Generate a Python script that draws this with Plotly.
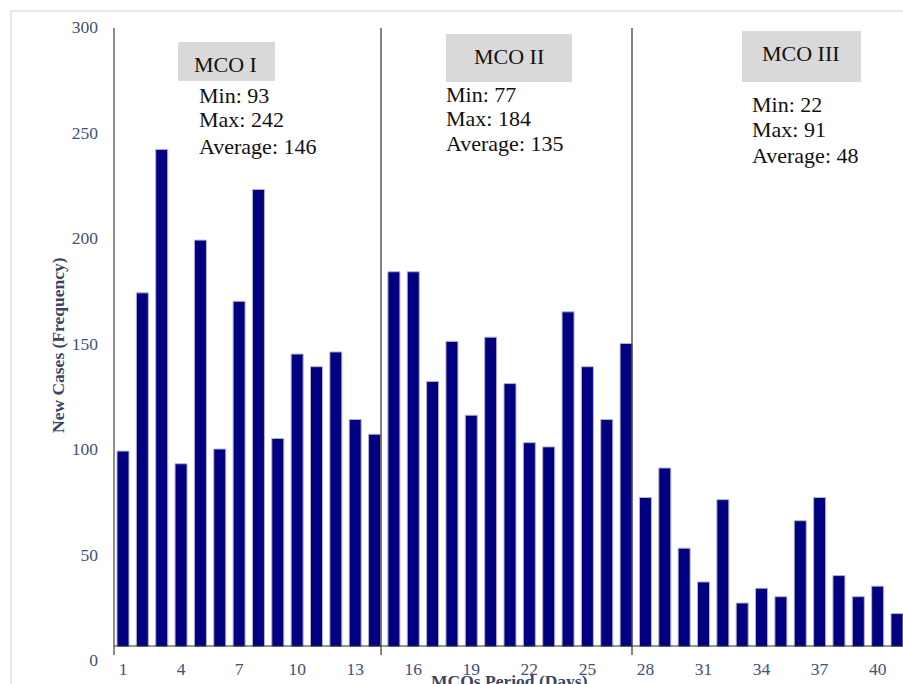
import plotly.graph_objects as go

days = list(range(1, 42))
new_cases = [99, 174, 242, 93, 199, 100, 170, 223, 105, 145, 139, 146, 114, 107,
             184, 184, 132, 151, 116, 153, 131, 103, 101, 165, 139, 114, 150,
             77, 91, 53, 37, 76, 27, 34, 30, 66, 77, 40, 30, 35, 22]
x_tick_vals = list(range(1, 42, 3))
y_tick_vals = [0, 50, 100, 150, 200, 250, 300]

phase_names = ["MCO I", "MCO II", "MCO III"]
phase_stats = [["Min: 93", "Max: 242", "Average: 146"],
               ["Min: 77", "Max: 184", "Average: 135"],
               ["Min: 22", "Max: 91", "Average: 48"]]
phase_breaks = [14.335, 27.305]

W, H = 903, 684
PLOT_LEFT, PLOT_TOP, PLOT_BOTTOM = 114, 27, 660  # page pixels
L, T, R = PLOT_LEFT, PLOT_TOP, 0
B = H - PLOT_BOTTOM
PW, PH = W - L - R, H - T - B


def px(x):
    return (x - PLOT_LEFT) / PW


def py(y):
    return (PLOT_BOTTOM - y) / PH


SERIF = "Liberation Serif, Times New Roman, serif"
TICK_COL = "#42507a"

fig = go.Figure()
fig.add_trace(go.Bar(
    x=days, y=new_cases, width=0.62,
    marker=dict(color="#000080", line=dict(color="#b4b4c4", width=1)),
))

shapes = []
# outer light frame
shapes.append(dict(type="rect", xref="paper", yref="paper",
                   x0=px(11), x1=px(915), y0=py(700), y1=py(11),
                   line=dict(color="#dfe1ef", width=1.5), fillcolor="rgba(0,0,0,0)", layer="below"))
# white cover under baseline
shapes.append(dict(type="rect", xref="paper", yref="paper",
                   x0=px(115), x1=1.0, y0=0, y1=py(646.5),
                   line=dict(width=0), fillcolor="white", layer="above"))
# baseline
shapes.append(dict(type="line", xref="paper", yref="paper",
                   x0=px(114), x1=1.0, y0=py(646), y1=py(646),
                   line=dict(color="#303030", width=1.2), layer="above"))
# y axis line
shapes.append(dict(type="line", xref="paper", yref="paper",
                   x0=px(114), x1=px(114), y0=py(655), y1=py(28),
                   line=dict(color="#404040", width=1.2), layer="above"))
# phase dividers
for b in phase_breaks:
    shapes.append(dict(type="line", xref="x", yref="paper",
                       x0=b, x1=b, y0=py(655), y1=py(28),
                       line=dict(color="#303030", width=1.2), layer="above"))

# label boxes (page pixel extents)
boxes = [(178, 275, 42, 81), (446, 572, 34, 82), (742, 861, 31, 82)]
for (x0, x1, y0, y1) in boxes:
    shapes.append(dict(type="rect", xref="paper", yref="paper",
                       x0=px(x0), x1=px(x1), y0=py(y1), y1=py(y0),
                       line=dict(width=0), fillcolor="#d9d9d9", layer="above"))

annotations = []
title_pos = [(225, 63.5), (508.5, 55.5), (801, 52.5)]
for name, (cx, cy) in zip(phase_names, title_pos):
    annotations.append(dict(text=name, xref="paper", yref="paper", x=px(cx), y=py(cy + 1),
                            xanchor="center", yanchor="middle", showarrow=False,
                            font=dict(family=SERIF, size=22, color="#111111")))

stat_pos = [(199, [94.5, 119, 145]), (446, [93.3, 117.5, 142.5]), (752, [103.7, 128.3, 154])]
for lines, (lx, ys) in zip(phase_stats, stat_pos):
    for line, yy in zip(lines, ys):
        annotations.append(dict(text=line, xref="paper", yref="paper", x=px(lx - 2), y=py(yy + 1),
                                xanchor="left", yanchor="middle", showarrow=False,
                                font=dict(family=SERIF, size=22, color="#111111")))

# axis titles
annotations.append(dict(text="<b>New Cases (Frequency)</b>", xref="paper", yref="paper",
                        x=px(58), y=py(345), textangle=-90, xanchor="center", yanchor="middle",
                        showarrow=False, font=dict(family=SERIF, size=17.5, color="#3a4563")))
annotations.append(dict(text="<b>MCOs Period (Days)</b>", xref="paper", yref="paper",
                        x=px(510), y=py(681), xanchor="center", yanchor="middle",
                        showarrow=False, font=dict(family=SERIF, size=17.5, color="#3a4563")))

fig.update_layout(
    width=W, height=H,
    margin=dict(l=L, r=R, t=T, b=B, pad=0),
    paper_bgcolor="white", plot_bgcolor="white",
    showlegend=False,
    bargap=0.38,
    shapes=shapes,
    annotations=annotations,
    xaxis=dict(range=[0.535, 41.31], tickvals=x_tick_vals, ticktext=[str(v) for v in x_tick_vals],
               showgrid=False, zeroline=False, showline=False, ticks="", ticklabelstandoff=-4,
               tickfont=dict(family=SERIF, size=17.5, color=TICK_COL), fixedrange=True),
    yaxis=dict(range=[0, 300], tickvals=y_tick_vals, showgrid=False, zeroline=False,
               showline=False, ticks="", ticklabelstandoff=15,
               tickfont=dict(family=SERIF, size=17.5, color=TICK_COL), fixedrange=True),
)

fig.write_html("out.html", config={"displayModeBar": False},
               post_script="document.body.style.margin='0';document.body.style.overflow='hidden';")
